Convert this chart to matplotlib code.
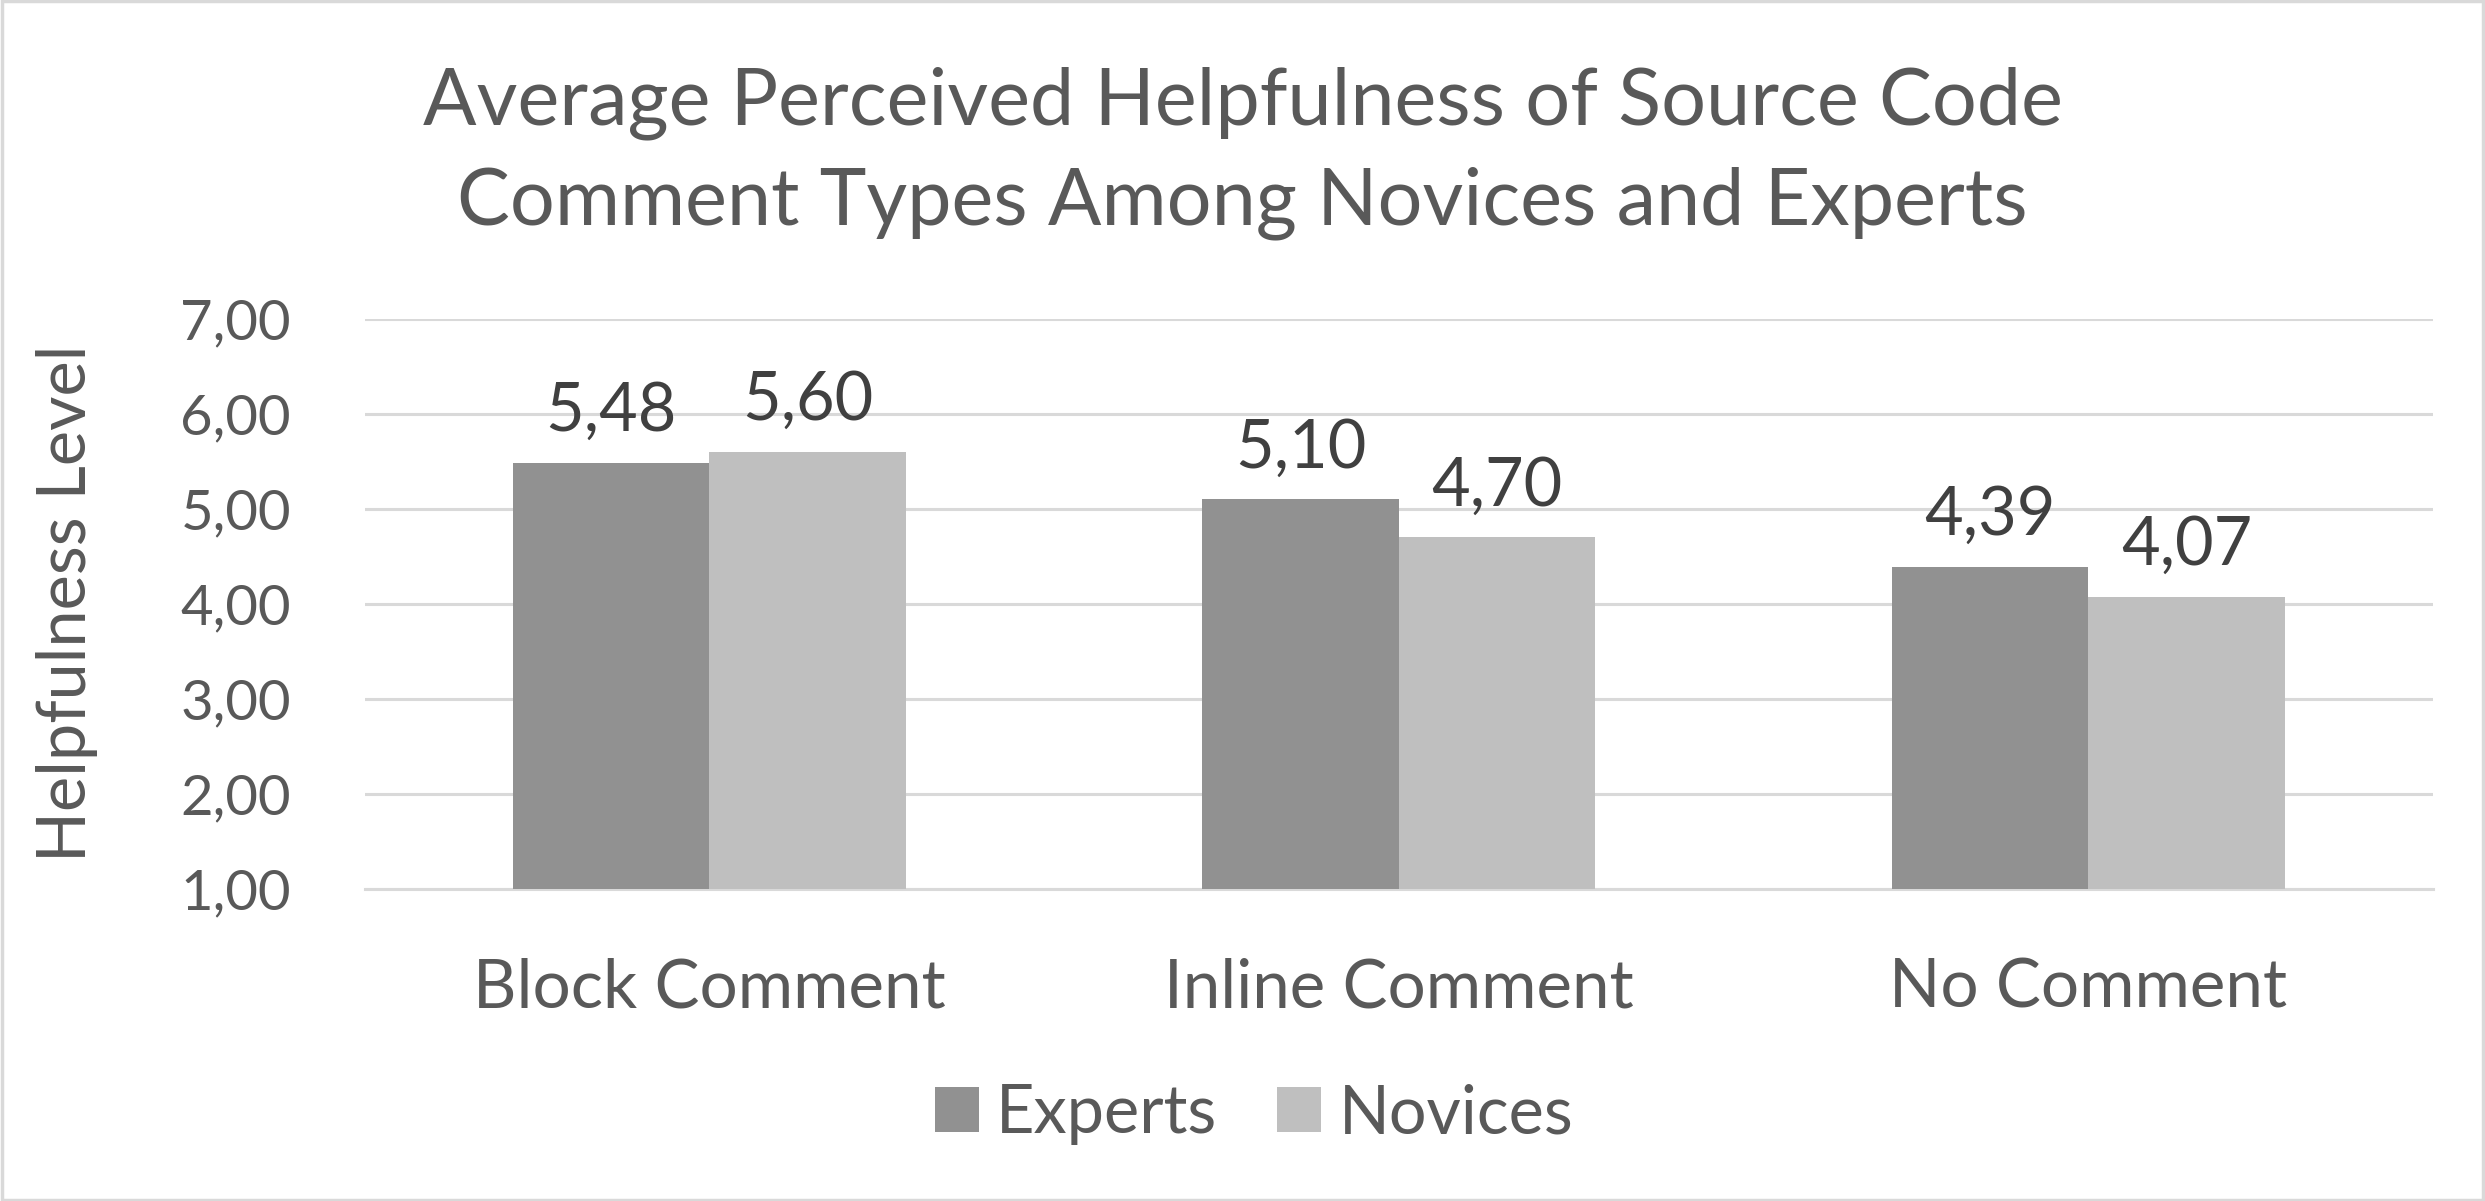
import matplotlib
matplotlib.use("Agg")
import matplotlib.pyplot as plt
import numpy as np
from matplotlib.patches import Rectangle

plt.rcParams["font.family"] = ["Lato", "DejaVu Sans"]

CATEGORIES = ["Block Comment", "Inline Comment", "No Comment"]
EXPERTS = [5.48, 5.10, 4.39]
NOVICES = [5.60, 4.70, 4.07]
Y_TICKS = [1, 2, 3, 4, 5, 6, 7]
TITLE = "Average Perceived Helpfulness of Source Code\nComment Types Among Novices and Experts"

TEXT_COLOR = "#595959"
LABEL_COLOR = "#404040"
GRID_COLOR = "#d9d9d9"
EXPERT_COLOR = "#919191"
NOVICE_COLOR = "#bfbfbf"


def fmt(v):
    return f"{v:.2f}".replace(".", ",")


fig = plt.figure(figsize=(24.85, 12.01), dpi=100)
ax = fig.add_axes([0.1467, 0.2598, 0.979 - 0.1467, 0.7347 - 0.2598])

x = np.arange(len(CATEGORIES))
w = 0.285
b1 = ax.bar(x - w / 2, np.array(EXPERTS) - 1, w, bottom=1, color=EXPERT_COLOR,
            label="Experts", zorder=3)
b2 = ax.bar(x + w / 2, np.array(NOVICES) - 1, w, bottom=1, color=NOVICE_COLOR,
            label="Novices", zorder=3)

# value labels above each bar
for bars, vals in ((b1, EXPERTS), (b2, NOVICES)):
    for rect, v in zip(bars, vals):
        ax.annotate(fmt(v), (rect.get_x() + rect.get_width() / 2, v),
                    xytext=(0, 23), textcoords="offset points",
                    ha="center", va="baseline", fontsize=48, color=LABEL_COLOR)

ax.set_xlim(-0.5, len(CATEGORIES) - 0.5)
ax.set_ylim(1, 7)
ax.set_yticks(Y_TICKS)
ax.set_yticklabels([fmt(t) for t in Y_TICKS], fontsize=40.5, color=TEXT_COLOR)
ax.set_xticks(x)
ax.set_xticklabels(CATEGORIES, fontsize=48.5, color=TEXT_COLOR)
ax.tick_params(axis="y", length=0, pad=53)
ax.tick_params(axis="x", length=0, pad=49)
ax.grid(axis="y", color=GRID_COLOR, linewidth=2.2, zorder=0)
ax.set_axisbelow(True)
for s in ("top", "right", "left"):
    ax.spines[s].set_visible(False)
ax.spines["bottom"].set_color(GRID_COLOR)
ax.spines["bottom"].set_linewidth(2.2)

ax.set_ylabel("Helpfulness Level", fontsize=48, color=TEXT_COLOR, va="center")
ax.yaxis.set_label_coords((67 - 365) / (2433 - 365), 0.5)

fig.text(0.5, 1 - 153 / 1201, TITLE, ha="center", va="center", fontsize=57,
         color=TEXT_COLOR, linespacing=1.46)

fig.legend(handles=[b1, b2], labels=["Experts", "Novices"], loc="center",
           bbox_to_anchor=(1254 / 2485, 1 - 1114 / 1201), ncol=2, frameon=False,
           fontsize=48, labelcolor=TEXT_COLOR, handlelength=0.66, handleheight=0.66,
           handletextpad=0.26, columnspacing=0.9)

# light chart border
fig.add_artist(Rectangle((0.001, 0.001), 0.998, 0.998, transform=fig.transFigure,
                         fill=False, edgecolor=GRID_COLOR, linewidth=2.5))

fig.savefig("out.png", dpi=100)
